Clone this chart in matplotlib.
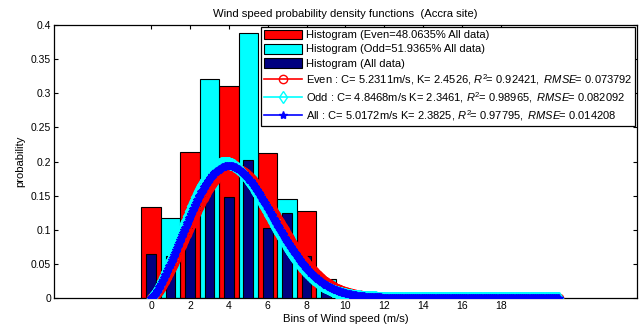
import matplotlib
matplotlib.use("Agg")
import matplotlib.pyplot as plt
import numpy as np

plt.rcParams["font.family"] = ["Liberation Sans", "DejaVu Sans"]
plt.rcParams["mathtext.fontset"] = "custom"
plt.rcParams["mathtext.it"] = "Liberation Sans:italic"
plt.rcParams["mathtext.rm"] = "Liberation Sans"

# histogram bins (m/s) and probabilities
even_bins = [0, 2, 4, 6, 8]
even_prob = [0.134, 0.214, 0.310, 0.213, 0.128]
odd_bins = [1, 3, 5, 7, 9]
odd_prob = [0.117, 0.321, 0.388, 0.145, 0.028]
all_bins = [0, 1, 2, 3, 4, 5, 6, 7, 8, 9]
all_prob = [0.064, 0.062, 0.103, 0.160, 0.148, 0.202, 0.103, 0.125, 0.061, 0.020]

# Weibull fits
fit_names = ["Even", "Odd", "All"]
fit_C = [5.2311, 4.8468, 5.0172]
fit_K = [2.4526, 2.3461, 2.3825]
fit_R2 = ["0.92421", "0.98965", "0.97795"]
fit_RMSE = ["0.073792", "0.082092", "0.014208"]
fit_sep = [",", "", ""]

even_share = "48.0635"
odd_share = "51.9365"


def weibull(v, c, k):
    return (k / c) * (v / c) ** (k - 1) * np.exp(-(v / c) ** k)


fig = plt.figure(figsize=(6.42, 3.26), dpi=100)
ax = fig.add_axes([0.084, 0.086, 0.908, 0.837])

handles = []
handles.append(ax.bar(even_bins, even_prob, width=1.0, color="red", edgecolor="black", lw=0.8,
                      label=f"Histogram (Even={even_share}% All data)", zorder=2))
handles.append(ax.bar(odd_bins, odd_prob, width=1.0, color="cyan", edgecolor="black", lw=0.8,
                      label=f"Histogram (Odd={odd_share}% All data)", zorder=2))
handles.append(ax.bar(all_bins, all_prob, width=0.5, color="#000080", edgecolor="black", lw=0.8,
                      label="Histogram (All data)", zorder=3))

v = np.linspace(0, 21, 600)
styles = [("red", "o"), ("cyan", "d"), ("blue", "*")]
for name, c, k, r2, rmse, sep, (col, mk) in zip(fit_names, fit_C, fit_K, fit_R2,
                                                fit_RMSE, fit_sep, styles):
    # R^2 and RMSE part in italics, squeeze the relation spacing around "="
    eq = r"\!\!=\!\ "
    lab = (f"{name} : C= {c:.4f}m/s{sep} K= {k:.4f}, "
           + r"$\mathit{R^2" + eq + r2 + r",\ RMSE" + eq + rmse + "}$")
    face = "none" if mk != "*" else col
    ln, = ax.plot(v, weibull(v, c, k), color=col, lw=1.2, marker=mk, ms=6,
                  mfc=face, mec=col, mew=1.0, label=lab, zorder=4)
    handles.append(ln)

ax.set_xlim(-5, 25)
ax.set_ylim(0, 0.4)
ax.set_xticks(np.arange(0, 19, 2))
ax.set_yticks(np.arange(0, 0.41, 0.05))
ax.set_yticklabels(["0", "0.05", "0.1", "0.15", "0.2", "0.25", "0.3", "0.35", "0.4"])
ax.tick_params(direction="in", top=True, right=True, labelsize=7.5, length=3, pad=2)
for s in ax.spines.values():
    s.set_linewidth(0.9)

ax.set_title("Wind speed probability density functions  (Accra site)", fontsize=8.1, pad=6)
ax.set_xlabel("Bins of Wind speed (m/s)", fontsize=8.1, labelpad=2)
ax.set_ylabel("probability", fontsize=8.1, labelpad=4)

leg = ax.legend(handles=handles, loc="upper right", fontsize=8.0, frameon=True, fancybox=False,
                edgecolor="black", framealpha=1, borderpad=0.25, labelspacing=0.3,
                handlelength=3.5, handleheight=1.0, handletextpad=0.3, borderaxespad=0.15)
leg.get_frame().set_linewidth(0.9)

fig.savefig("out.png", dpi=100)
